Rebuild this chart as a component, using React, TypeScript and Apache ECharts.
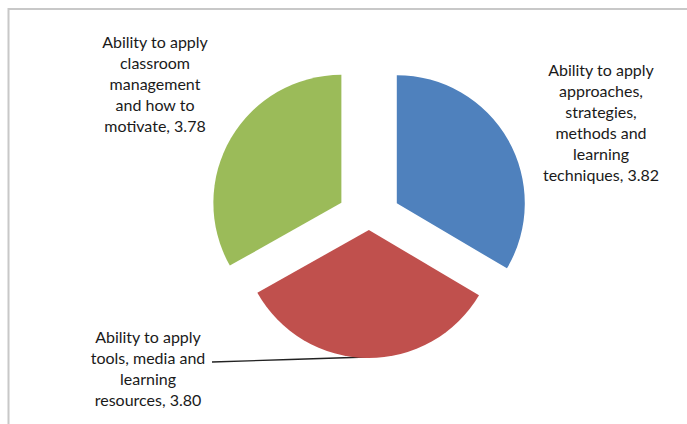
import React, { useEffect, useRef } from 'react';
import * as echarts from 'echarts';

const categories = [
  'Ability to apply\napproaches,\nstrategies,\nmethods and\nlearning\ntechniques',
  'Ability to apply\ntools, media and\nlearning\nresources',
  'Ability to apply\nclassroom\nmanagement\nand how to\nmotivate',
];
const values = [3.82, 3.8, 3.78];
const colors = ['#4F81BD', '#C0504D', '#9BBB59'];
// explode distance per slice (Excel point explosion), px
const explode = [32, 11, 32];
// label anchor positions (layout only)
const labelPos = [
  [601, 122],
  [148, 368],
  [155, 83],
];

const BASE_CENTER = [369, 219];
const RADIUS = 128;

export default function App() {
  const ref = useRef<HTMLDivElement>(null);
  useEffect(() => {
    if (!ref.current) return;
    const chart = echarts.init(ref.current, null, { renderer: 'svg' });
    const total = values.reduce((a, b) => a + b, 0);
    let cum = 0;
    const series = values.map((v, k) => {
      const mid = ((cum + v / 2) / total) * 2 * Math.PI;
      cum += v;
      const cx = BASE_CENTER[0] + Math.sin(mid) * explode[k];
      const cy = BASE_CENTER[1] - Math.cos(mid) * explode[k];
      return {
        type: 'pie',
        center: [cx, cy],
        radius: RADIUS,
        startAngle: 90,
        clockwise: true,
        silent: true,
        data: values.map((val, i) => {
          const on = i === k;
          return {
            name: categories[i],
            value: val,
            itemStyle: { color: on ? colors[i] : 'transparent' },
            label: { show: on },
            labelLine: { show: on && i === 1 },
          };
        }),
        label: {
          show: true,
          position: 'outside',
          formatter: (p: any) => `${p.name}, ${p.value.toFixed(2)}`,
          fontFamily: 'Lato',
          fontSize: 16,
          lineHeight: 21,
          color: '#1a1a1a',
          align: 'center',
        },
        labelLine: {
          show: false,
          lineStyle: { color: '#222', width: 1.3 },
        },
        labelLayout: (params: any) => {
          const i = params.dataIndex;
          const res: any = {
            x: labelPos[i][0],
            y: labelPos[i][1],
            align: 'center',
            verticalAlign: 'middle',
          };
          if (i === 1) {
            res.labelLinePoints = [
              [367, 357],
              [290, 359.5],
              [212, 362],
            ];
          }
          return res;
        },
      };
    });
    chart.setOption({
      animation: false,
      backgroundColor: '#ffffff',
      graphic: [
        {
          type: 'rect',
          shape: { x: 8.5, y: 9, width: 700, height: 430 },
          style: { fill: 'none', stroke: '#c8c8c8', lineWidth: 2 },
          silent: true,
        },
      ],
      series,
    });
    return () => chart.dispose();
  }, []);
  return (
    <div
      ref={ref}
      style={{ position: 'fixed', left: 0, top: 0, width: 687, height: 424 }}
    />
  );
}
